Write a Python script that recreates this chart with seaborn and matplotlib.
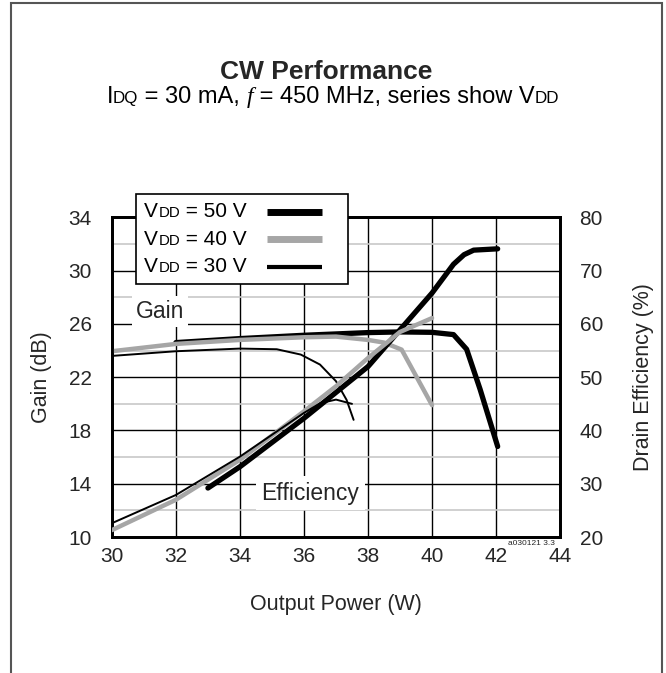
import numpy as np
import pandas as pd
import matplotlib
matplotlib.use("Agg")
import matplotlib.pyplot as plt
import seaborn as sns
from matplotlib.lines import Line2D
from matplotlib.patches import Rectangle
from matplotlib.offsetbox import (TextArea, HPacker, VPacker, DrawingArea,
                                  AnchoredOffsetbox)

# === Data ===
gain_50_x = [32, 34, 36, 38, 39, 40, 40.67, 41.08, 41.5, 42.05]
gain_50_y = [24.6, 24.9, 25.15, 25.35, 25.4, 25.37, 25.2, 24.1, 21.1, 16.8]

gain_40_x = [30, 32, 34, 36, 37, 38, 38.5, 39.05, 40]
gain_40_y = [23.95, 24.5, 24.8, 25.0, 25.05, 24.8, 24.6, 24.07, 19.9]

gain_30_x = [30, 32, 34, 35.15, 35.9, 36.5, 37.0, 37.33, 37.55]
gain_30_y = [23.6, 23.95, 24.15, 24.1, 23.7, 22.95, 21.7, 20.3, 18.8]

eff_50_x = [33, 34, 36, 38, 39, 40, 40.67, 41.0, 41.3, 42.05]
eff_50_y = [29.2, 33.2, 42.3, 52.0, 58.9, 65.8, 71.2, 73.0, 73.85, 74.1]

eff_40_x = [30, 32, 34, 36, 37, 38, 39, 40]
eff_40_y = [21.3, 27.0, 34.5, 43.6, 48.3, 53.6, 58.5, 61.1]

eff_30_x = [30, 32, 34, 36, 36.5, 37.0, 37.5]
eff_30_y = [22.6, 27.9, 35.1, 43.3, 45.1, 45.8, 45.0]

x_ticks = [30, 32, 34, 36, 38, 40, 42, 44]
gain_ticks = [10, 14, 18, 22, 26, 30, 34]
eff_ticks = [20, 30, 40, 50, 60, 70, 80]

series_labels = ["50 V", "40 V", "30 V"]

GRAY = "#a6a6a6"
styles = {"50 V": ("black", 3.8), "40 V": (GRAY, 3.2), "30 V": ("black", 1.4)}
legend_lw = {"50 V": 5, "40 V": 5, "30 V": 3}

gain_df = pd.concat([
    pd.DataFrame({"pout": gain_50_x, "val": gain_50_y, "vdd": "50 V"}),
    pd.DataFrame({"pout": gain_40_x, "val": gain_40_y, "vdd": "40 V"}),
    pd.DataFrame({"pout": gain_30_x, "val": gain_30_y, "vdd": "30 V"}),
])
eff_df = pd.concat([
    pd.DataFrame({"pout": eff_50_x, "val": eff_50_y, "vdd": "50 V"}),
    pd.DataFrame({"pout": eff_40_x, "val": eff_40_y, "vdd": "40 V"}),
    pd.DataFrame({"pout": eff_30_x, "val": eff_30_y, "vdd": "30 V"}),
])

sns.set_theme(style="white")
plt.rcParams["font.family"] = ["Liberation Sans", "DejaVu Sans"]


def small_caps_text(parts, size):
    # parts: list of (text, is_small, is_italic); baseline aligned
    boxes = []
    for txt, small, ital in parts:
        props = dict(fontsize=size * (0.72 if small else 1.0), color="black",
                     fontstyle="italic" if ital else "normal",
                     family=["Liberation Serif"] if ital else ["Liberation Sans"])
        boxes.append(TextArea(txt, textprops=props))
    return HPacker(children=boxes, align="baseline", pad=0, sep=0)


fig = plt.figure(figsize=(6.66, 6.73), dpi=100)
ax = fig.add_axes([0.168, 0.202, 0.673, 0.475])
ax2 = ax.twinx()

# grid: dark at labelled ticks, light in between
ax.set_xlim(30, 44)
ax.set_ylim(10, 34)
ax2.set_ylim(20, 80)
for xv in x_ticks:
    ax.axvline(xv, color="black", lw=1.0, zorder=0)
for g in np.arange(10, 35, 2):
    major = (g - 10) % 4 == 0
    ax.axhline(g, color="black" if major else "#c8c8c8", lw=1.0 if major else 1.2, zorder=0)

for lab in series_labels:
    col, lw = styles[lab]
    sub = gain_df[gain_df["vdd"] == lab]
    sns.lineplot(data=sub, x="pout", y="val", ax=ax, color=col, lw=lw,
                 sort=False, estimator=None, legend=False, zorder=3)
    sub = eff_df[eff_df["vdd"] == lab]
    sns.lineplot(data=sub, x="pout", y="val", ax=ax2, color=col, lw=lw,
                 sort=False, estimator=None, legend=False, zorder=3)

ax.set_xticks(x_ticks)
ax.set_yticks(gain_ticks)
ax2.set_yticks(eff_ticks)
ax.tick_params(axis="x", length=0, labelsize=15, pad=7)
ax.tick_params(axis="y", length=0, labelsize=15, pad=14.5)
ax2.tick_params(length=0, labelsize=15, pad=14)
ax.set_xlabel("Output Power (W)", fontsize=15.5, labelpad=20)
ax.set_ylabel("Gain (dB)", fontsize=15.5, labelpad=12)
ax2.set_ylabel("Drain Efficiency (%)", fontsize=15.5, labelpad=22)
for a in (ax, ax2):
    for s in a.spines.values():
        s.set_color("black")
        s.set_linewidth(2.0)

ax.text(31.5, 26.95, "Gain", fontsize=16.5, ha="center", va="center", zorder=5,
        bbox=dict(facecolor="white", edgecolor="none", pad=3))
ax.text(36.2, 13.3, "Efficiency", fontsize=16.5, ha="center", va="center", zorder=5,
        bbox=dict(facecolor="white", edgecolor="none", pad=4))
ax.text(43.1, 9.55, "a030121 3.3", fontsize=6, ha="center", va="center",
        zorder=5, clip_on=False)

# legend: text first, line sample after (DrawingArea sizes are in points)
rows = []
for lab in series_labels:
    col = styles[lab][0]
    txt = small_caps_text([("V", False, False), ("DD", True, False),
                           (" = " + lab, False, False)], 15)
    da = DrawingArea(53, 12, 0, 0)
    da.add_artist(Line2D([1, 40], [6, 6], color=col, lw=legend_lw[lab],
                         solid_capstyle="butt"))
    rows.append(HPacker(children=[txt, da], align="center", pad=0, sep=14))
leg_box = VPacker(children=rows, align="left", pad=0, sep=6)
leg = AnchoredOffsetbox(loc="upper left", child=leg_box, pad=0.55, borderpad=0,
                        frameon=True, bbox_to_anchor=(136 / 666, 1 - 194 / 673),
                        bbox_transform=fig.transFigure)
leg.patch.set_edgecolor("black")
leg.patch.set_linewidth(1.2)
leg.patch.set_boxstyle("square", pad=0)
leg.set_zorder(10)
ax2.add_artist(leg)

fig.text(0.49, 0.882, "CW Performance", fontsize=19, fontweight="bold", ha="center")
sub_box = small_caps_text([("I", False, False), ("DQ", True, False),
                           (" = 30 mA, ", False, False), ("f", False, True),
                           (" = 450 MHz, series show V", False, False),
                           ("DD", True, False)], 17)
fig.add_artist(AnchoredOffsetbox(loc="center", child=sub_box, frameon=False,
                                 pad=0, borderpad=0,
                                 bbox_to_anchor=(0.5, 1 - 97 / 673),
                                 bbox_transform=fig.transFigure))

# outer frame of the figure
fig.patches.append(Rectangle((11 / 666, -0.05), 651 / 666, 1.0 - 3 / 673 + 0.05,
                             transform=fig.transFigure, fill=False,
                             edgecolor="#555555", lw=1.5))

fig.savefig("out.png", dpi=100)
